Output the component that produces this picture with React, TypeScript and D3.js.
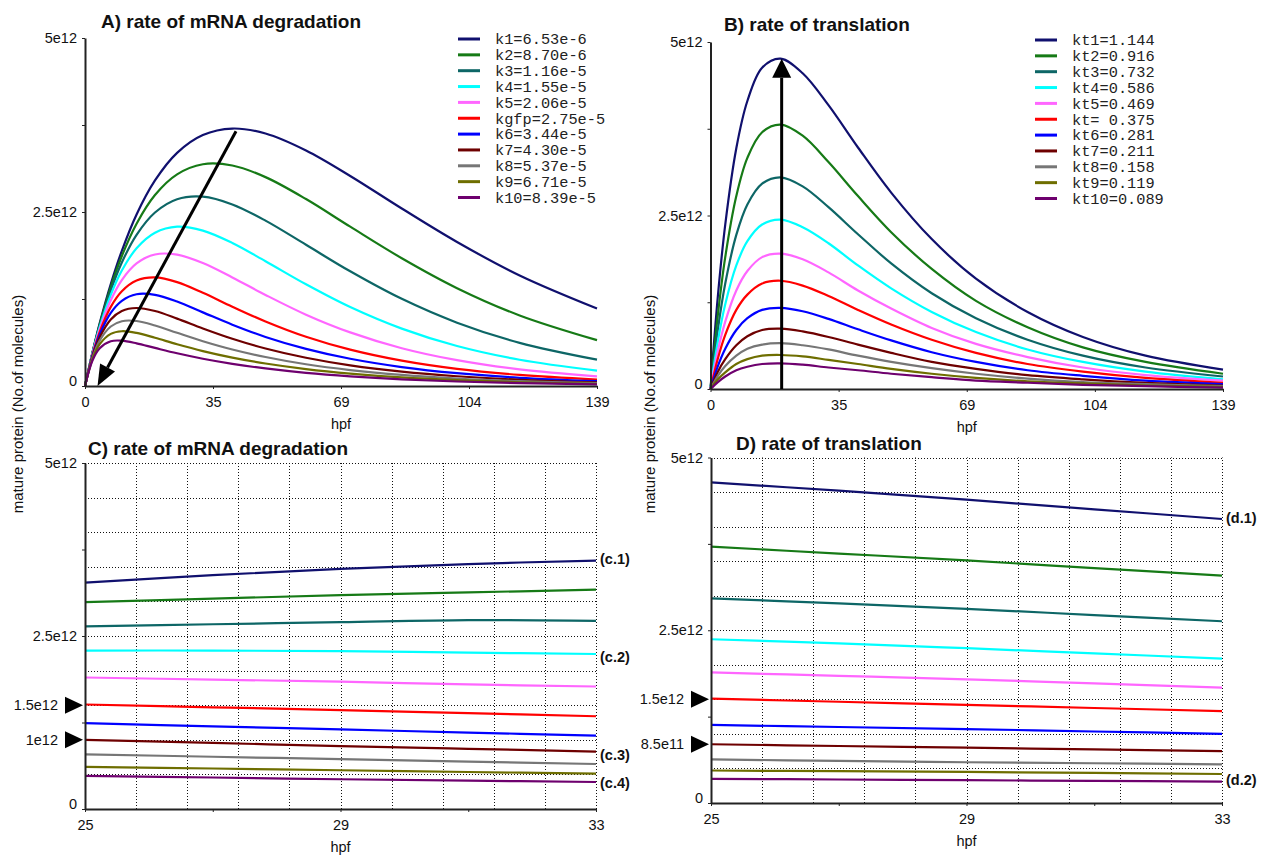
import React, { useEffect, useRef } from "react";
import * as d3 from "d3";

// sample times (hpf) for the full range plots and the 25-33 hpf close-ups
const hpfFull = [0, 2, 4, 7, 10, 14, 19, 25, 32, 40, 49, 60, 72, 86, 101, 118, 139];
const hpfZoom = [25, 27, 29, 31, 33];

const lineColors = ["#10106e", "#167a16", "#0d6666", "#00ffff", "#ff66ff", "#ff0000", "#0000ff", "#6e0000", "#767676", "#6e6e00", "#6e006e"];

const degLabels = ["k1=6.53e-6", "k2=8.70e-6", "k3=1.16e-5", "k4=1.55e-5", "k5=2.06e-5", "kgfp=2.75e-5", "k6=3.44e-5", "k7=4.30e-5", "k8=5.37e-5", "k9=6.71e-5", "k10=8.39e-5"];
const transLabels = ["kt1=1.144", "kt2=0.916", "kt3=0.732", "kt4=0.586", "kt5=0.469", "kt= 0.375", "kt6=0.281", "kt7=0.211", "kt8=0.158", "kt9=0.119", "kt10=0.089"];

// A) mature protein, units of 1e12 molecules
const degK1 = [0, 0.473, 0.903, 1.465, 1.942, 2.464, 2.953, 3.35, 3.606, 3.699, 3.628, 3.384, 3.018, 2.55, 2.069, 1.588, 1.113];
const degK2 = [0, 0.47, 0.887, 1.425, 1.868, 2.332, 2.744, 3.041, 3.186, 3.168, 3.001, 2.686, 2.289, 1.836, 1.406, 1.014, 0.659];
const degK3 = [0, 0.465, 0.869, 1.375, 1.775, 2.172, 2.493, 2.684, 2.721, 2.609, 2.376, 2.029, 1.648, 1.252, 0.91, 0.62, 0.378];
const degK4 = [0, 0.459, 0.846, 1.31, 1.659, 1.979, 2.202, 2.289, 2.233, 2.055, 1.793, 1.461, 1.134, 0.824, 0.574, 0.377, 0.221];
const degK5 = [0, 0.45, 0.816, 1.232, 1.522, 1.761, 1.89, 1.888, 1.767, 1.56, 1.309, 1.025, 0.77, 0.543, 0.371, 0.239, 0.139];
const degKgfp = [0, 0.44, 0.778, 1.137, 1.362, 1.516, 1.56, 1.493, 1.34, 1.14, 0.927, 0.707, 0.522, 0.364, 0.246, 0.159, 0.092];
const degK6 = [0, 0.429, 0.742, 1.051, 1.224, 1.318, 1.31, 1.213, 1.058, 0.881, 0.705, 0.533, 0.391, 0.272, 0.184, 0.118, 0.069];
const degK7 = [0, 0.416, 0.701, 0.957, 1.079, 1.121, 1.077, 0.968, 0.827, 0.679, 0.539, 0.406, 0.297, 0.206, 0.14, 0.09, 0.052];
const degK8 = [0, 0.401, 0.654, 0.855, 0.931, 0.934, 0.87, 0.764, 0.644, 0.525, 0.416, 0.312, 0.229, 0.159, 0.108, 0.069, 0.04];
const degK9 = [0, 0.384, 0.601, 0.749, 0.787, 0.763, 0.693, 0.6, 0.502, 0.408, 0.323, 0.243, 0.178, 0.123, 0.084, 0.054, 0.031];
const degK10 = [0, 0.363, 0.543, 0.643, 0.651, 0.613, 0.547, 0.47, 0.392, 0.319, 0.252, 0.189, 0.139, 0.096, 0.065, 0.042, 0.024];

// B) rate of translation
const trKt1 = [0, 1.34, 2.37, 3.47, 4.15, 4.63, 4.76, 4.55, 4.09, 3.48, 2.83, 2.16, 1.59, 1.11, 0.75, 0.48, 0.28];
const trKt2 = [0, 1.07, 1.9, 2.78, 3.33, 3.7, 3.81, 3.65, 3.27, 2.78, 2.26, 1.73, 1.27, 0.89, 0.6, 0.39, 0.22];
const trKt3 = [0, 0.86, 1.52, 2.22, 2.66, 2.96, 3.05, 2.92, 2.62, 2.23, 1.81, 1.38, 1.02, 0.71, 0.48, 0.31, 0.18];
const trKt4 = [0, 0.69, 1.22, 1.78, 2.13, 2.37, 2.44, 2.33, 2.1, 1.78, 1.45, 1.11, 0.82, 0.57, 0.39, 0.25, 0.14];
const trKt5 = [0, 0.55, 0.97, 1.42, 1.7, 1.9, 1.95, 1.87, 1.68, 1.42, 1.16, 0.88, 0.65, 0.46, 0.31, 0.2, 0.12];
const trKt = [0, 0.44, 0.78, 1.14, 1.36, 1.52, 1.56, 1.49, 1.34, 1.14, 0.93, 0.71, 0.52, 0.36, 0.25, 0.16, 0.09];
const trKt6 = [0, 0.33, 0.58, 0.85, 1.02, 1.14, 1.17, 1.12, 1.01, 0.86, 0.7, 0.53, 0.39, 0.27, 0.19, 0.12, 0.07];
const trKt7 = [0, 0.25, 0.43, 0.63, 0.76, 0.85, 0.87, 0.83, 0.75, 0.64, 0.52, 0.39, 0.29, 0.2, 0.14, 0.09, 0.05];
const trKt8 = [0, 0.19, 0.33, 0.48, 0.58, 0.64, 0.66, 0.63, 0.57, 0.48, 0.39, 0.3, 0.22, 0.15, 0.1, 0.07, 0.04];
const trKt9 = [0, 0.14, 0.24, 0.36, 0.43, 0.48, 0.49, 0.47, 0.42, 0.36, 0.29, 0.22, 0.16, 0.11, 0.08, 0.05, 0.03];
const trKt10 = [0, 0.1, 0.18, 0.27, 0.32, 0.36, 0.37, 0.35, 0.31, 0.27, 0.22, 0.17, 0.12, 0.09, 0.06, 0.04, 0.02];

// C) mRNA degradation, 25-33 hpf
const zoomDeg = [
  [3.27, 3.38, 3.47, 3.54, 3.59],
  [2.99, 3.04, 3.09, 3.13, 3.17],
  [2.64, 2.67, 2.7, 2.73, 2.72],
  [2.29, 2.29, 2.28, 2.26, 2.24],
  [1.9, 1.87, 1.84, 1.8, 1.77],
  [1.51, 1.47, 1.43, 1.385, 1.34],
  [1.24, 1.195, 1.15, 1.105, 1.06],
  [1.0, 0.955, 0.91, 0.87, 0.83],
  [0.79, 0.755, 0.72, 0.685, 0.65],
  [0.61, 0.585, 0.56, 0.535, 0.51],
  [0.48, 0.455, 0.43, 0.41, 0.39],
];

// D) translation, 25-33 hpf
const zoomTr = [
  [4.64, 4.52, 4.39, 4.25, 4.11],
  [3.71, 3.61, 3.51, 3.4, 3.29],
  [2.96, 2.89, 2.81, 2.72, 2.63],
  [2.37, 2.31, 2.24, 2.165, 2.09],
  [1.89, 1.84, 1.79, 1.73, 1.67],
  [1.51, 1.465, 1.42, 1.375, 1.33],
  [1.13, 1.1, 1.07, 1.035, 1.0],
  [0.85, 0.825, 0.8, 0.775, 0.75],
  [0.63, 0.61, 0.59, 0.575, 0.56],
  [0.47, 0.46, 0.45, 0.435, 0.42],
  [0.35, 0.34, 0.33, 0.32, 0.31],
];

const yTicks = [0, 1.25, 2.5, 3.75, 5];
const yTickText: Record<string, string> = { "0": "0", "2.5": "2.5e12", "5": "5e12" };
const fullTicks = [0, 34.75, 69.5, 104.25, 139];
const fullTickText = ["0", "35", "69", "104", "139"];
const zoomTicks = [25, 27, 29, 31, 33];

const SANS = "'Liberation Sans', Arial, sans-serif";
const MONO = "'Liberation Mono', 'Courier New', monospace";

function drawPanel(svg: any, p: any) {
  const x = d3.scaleLinear().domain(p.xDomain).range([p.left, p.right]);
  const y = d3.scaleLinear().domain([0, 5]).range([p.bottom, p.top]);
  const g = svg.append("g");

  if (p.grid) {
    const step = (p.xDomain[1] - p.xDomain[0]) / 10;
    const gx = d3.range(1, 11).map((i) => p.xDomain[0] + i * step);
    const gy = d3.range(1, 11).map((i) => i * 0.5);
    const snap = (v: number) => Math.round(v) + 0.5;
    g.selectAll(".vg").data(gx).enter().append("line")
      .attr("x1", (d: number) => snap(x(d))).attr("x2", (d: number) => snap(x(d)))
      .attr("y1", y(0)).attr("y2", y(5))
      .attr("stroke", "#111").attr("stroke-width", 1).attr("stroke-dasharray", "1,2");
    g.selectAll(".hg").data(gy).enter().append("line")
      .attr("x1", x(p.xDomain[0])).attr("x2", x(p.xDomain[1]))
      .attr("y1", (d: number) => snap(y(d))).attr("y2", (d: number) => snap(y(d)))
      .attr("stroke", "#111").attr("stroke-width", 1).attr("stroke-dasharray", "1,2");
  }

  const line = d3.line<number>()
    .x((d, i) => x(p.hpf[i]))
    .y((d) => y(d))
    .curve(d3.curveCatmullRom.alpha(0.5));
  p.series.forEach((s: number[], i: number) => {
    g.append("path").attr("d", line(s)).attr("fill", "none")
      .attr("stroke", lineColors[i]).attr("stroke-width", 2.2);
  });

  // axes
  const yAxis = d3.axisLeft(y).tickValues(yTicks).tickSize(3).tickSizeOuter(0).tickPadding(5)
    .tickFormat((d: any) => yTickText[String(d)] || "");
  const ya = g.append("g").attr("transform", `translate(${p.left},0)`).call(yAxis);
  const xAxis = d3.axisBottom(x).tickValues(p.xTicks).tickSize(3).tickSizeOuter(0).tickPadding(8)
    .tickFormat((d: any, i: number) => p.xTickText[i]);
  const xa = g.append("g").attr("transform", `translate(0,${p.bottom})`).call(xAxis);
  [ya, xa].forEach((a: any) => {
    a.attr("font-family", SANS).attr("font-size", 14.5);
    a.select(".domain").attr("stroke", "#222").attr("stroke-width", 2);
    a.selectAll(".tick line").attr("stroke", "#222");
    a.selectAll("text").attr("fill", "#111");
  });
  ya.selectAll(".tick text").filter((d: any) => d === 0).attr("dy", "-0.05em");

  // title
  g.append("text").attr("x", p.titleX).attr("y", p.titleY).text(p.title)
    .attr("font-family", SANS).attr("font-weight", "bold").attr("font-size", 19).attr("fill", "#111");
  // hpf
  g.append("text").attr("x", (p.left + p.right) / 2).attr("y", p.bottom + 38).attr("dy", "0.35em")
    .attr("text-anchor", "middle").attr("font-family", SANS).attr("font-size", 14.5).attr("fill", "#111").text("hpf");

  // legend
  if (p.legend) {
    p.legend.forEach((lab: string, i: number) => {
      const ly = p.legendY + i * 15.85;
      g.append("line").attr("x1", p.legendX).attr("x2", p.legendX + 22).attr("y1", ly).attr("y2", ly)
        .attr("stroke", lineColors[i]).attr("stroke-width", 3);
      g.append("text").attr("x", p.legendX + 37).attr("y", ly).attr("dy", "0.35em")
        .attr("font-family", MONO).attr("font-size", 15.3).attr("fill", "#222")
        .style("white-space", "pre").text(lab);
    });
  }

  // arrow
  if (p.arrow) {
    const [fx, fy] = [x(p.arrow.from[0]), y(p.arrow.from[1])];
    const [tx, ty] = [x(p.arrow.to[0]), y(p.arrow.to[1])];
    const len = Math.hypot(tx - fx, ty - fy);
    const ux = (tx - fx) / len, uy = (ty - fy) / len;
    const L = p.arrow.head, W = p.arrow.width;
    const bx = tx - ux * L, by = ty - uy * L;
    g.append("line").attr("x1", fx).attr("y1", fy).attr("x2", bx).attr("y2", by)
      .attr("stroke", "#000").attr("stroke-width", 3);
    g.append("polygon")
      .attr("points", `${tx},${ty} ${bx - uy * W / 2},${by + ux * W / 2} ${bx + uy * W / 2},${by - ux * W / 2}`)
      .attr("fill", "#000");
  }

  // pointed levels on the y axis
  if (p.markers) {
    p.markers.forEach((m: any) => {
      const my = y(m.v);
      g.append("polygon")
        .attr("points", `${p.left - 2},${my} ${p.left - 20},${my - 8.5} ${p.left - 20},${my + 8.5}`)
        .attr("fill", "#000");
      g.append("text").attr("x", p.left - 27).attr("y", my).attr("dy", "0.35em").attr("text-anchor", "end")
        .attr("font-family", SANS).attr("font-size", 14.5).attr("fill", "#111").text(m.text);
    });
  }

  // right-hand curve labels
  if (p.tags) {
    p.tags.forEach((t: any) => {
      g.append("text").attr("x", p.right + 4).attr("y", y(t.v)).attr("dy", "0.35em")
        .attr("font-family", SANS).attr("font-weight", "bold").attr("font-size", 14.5).attr("fill", "#111").text(t.text);
    });
  }
}

export default function App() {
  const ref = useRef<SVGSVGElement>(null);

  useEffect(() => {
    const svg = d3.select(ref.current);
    svg.selectAll("*").remove();
    svg.append("rect").attr("width", 1270).attr("height", 856).attr("fill", "#fff");

    drawPanel(svg, {
      title: "A) rate of mRNA degradation", titleX: 101, titleY: 28,
      left: 85, right: 597, top: 38, bottom: 386,
      xDomain: [0, 139], xTicks: fullTicks, xTickText: fullTickText,
      hpf: hpfFull,
      series: [degK1, degK2, degK3, degK4, degK5, degKgfp, degK6, degK7, degK8, degK9, degK10],
      legend: degLabels, legendX: 458, legendY: 39,
      arrow: { from: [41, 3.66], to: [3.4, 0], head: 21, width: 17 },
    });
    drawPanel(svg, {
      title: "B) rate of translation", titleX: 724, titleY: 31,
      left: 710.5, right: 1223, top: 42, bottom: 389,
      xDomain: [0, 139], xTicks: fullTicks, xTickText: fullTickText,
      hpf: hpfFull,
      series: [trKt1, trKt2, trKt3, trKt4, trKt5, trKt, trKt6, trKt7, trKt8, trKt9, trKt10],
      legend: transLabels, legendX: 1035, legendY: 40,
      arrow: { from: [19.3, 0], to: [19.3, 4.76], head: 19, width: 19 },
    });
    drawPanel(svg, {
      title: "C) rate of mRNA degradation", titleX: 88, titleY: 455,
      left: 85, right: 596, top: 463, bottom: 809,
      xDomain: [25, 33], xTicks: zoomTicks, xTickText: ["25", "", "29", "", "33"],
      hpf: hpfZoom, series: zoomDeg, grid: true,
      markers: [{ v: 1.5, text: "1.5e12" }, { v: 1.0, text: "1e12" }],
      tags: [{ v: 3.62, text: "(c.1)" }, { v: 2.2, text: "(c.2)" }, { v: 0.78, text: "(c.3)" }, { v: 0.37, text: "(c.4)" }],
    });
    drawPanel(svg, {
      title: "D) rate of translation", titleX: 736, titleY: 450,
      left: 711, right: 1222, top: 457.5, bottom: 803,
      xDomain: [25, 33], xTicks: zoomTicks, xTickText: ["25", "", "29", "", "33"],
      hpf: hpfZoom, series: zoomTr, grid: true,
      markers: [{ v: 1.5, text: "1.5e12" }, { v: 0.85, text: "8.5e11" }],
      tags: [{ v: 4.12, text: "(d.1)" }, { v: 0.33, text: "(d.2)" }],
    });

    // shared y titles
    [18, 650].forEach((cx) => {
      svg.append("text").attr("transform", `translate(${cx},404) rotate(-90)`).attr("dy", "0.35em")
        .attr("text-anchor", "middle").attr("font-family", SANS).attr("font-size", 15).attr("fill", "#111")
        .text("mature protein (No.of molecules)");
    });
  }, []);

  return (
    <svg ref={ref} width={1270} height={856} style={{ position: "absolute", left: 0, top: 0 }} />
  );
}
